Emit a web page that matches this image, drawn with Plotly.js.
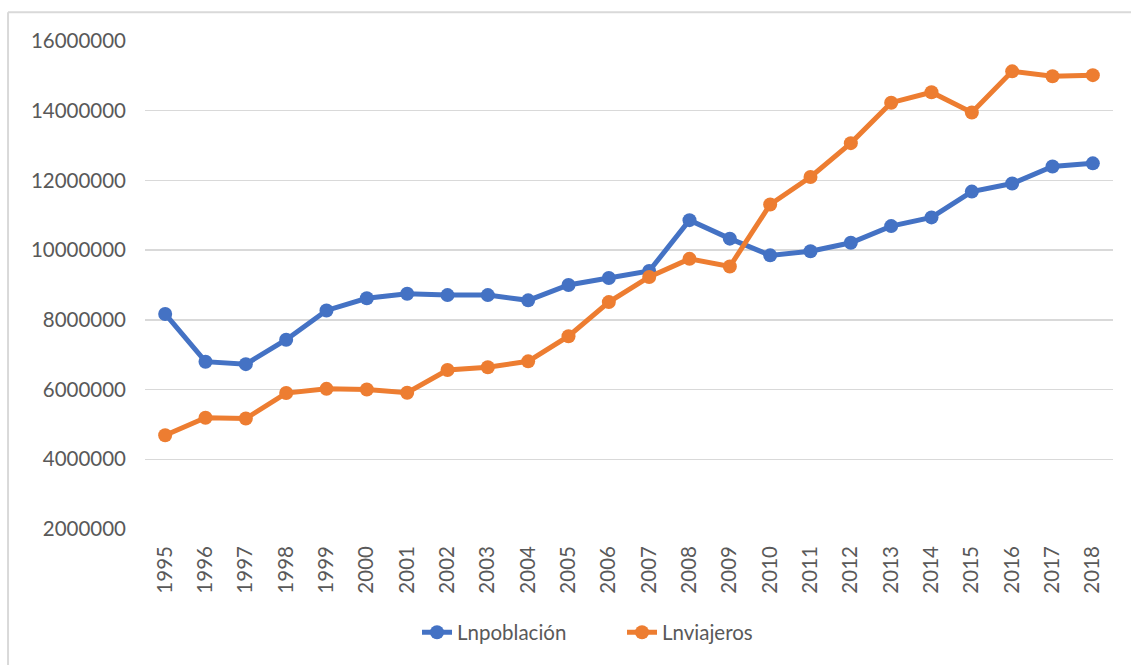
<!DOCTYPE html>
<html>
<head>
<meta charset="utf-8">
<script src="https://cdn.plot.ly/plotly-3.0.1.min.js"></script>
<style>html,body{margin:0;padding:0;background:#fff;}#chart{width:1131px;height:665px;}</style>
</head>
<body>
<div id="chart"></div>
<script>
const years = ['1995','1996','1997','1998','1999','2000','2001','2002','2003','2004','2005','2006','2007','2008','2009','2010','2011','2012','2013','2014','2015','2016','2017','2018'];
const lnpoblacion = [8170000,6800000,6730000,7430000,8270000,8620000,8750000,8710000,8710000,8560000,9000000,9200000,9400000,10860000,10330000,9850000,9970000,10210000,10690000,10940000,11680000,11910000,12400000,12490000];
const lnviajeros = [4690000,5190000,5170000,5900000,6020000,6000000,5910000,6560000,6640000,6810000,7530000,8510000,9230000,9750000,9530000,11310000,12100000,13070000,14230000,14530000,13950000,15130000,14990000,15020000];
const yTicks = [2000000,4000000,6000000,8000000,10000000,12000000,14000000,16000000];

const font = {family: 'Lato, "Open Sans", sans-serif', size: 20.5, color: '#595959'};

const traces = [
  {x: years, y: lnpoblacion, name: 'Lnpoblación', type: 'scatter', mode: 'lines+markers',
   line: {color: '#4472C4', width: 5}, marker: {color: '#4472C4', size: 14}},
  {x: years, y: lnviajeros, name: 'Lnviajeros', type: 'scatter', mode: 'lines+markers',
   line: {color: '#ED7D31', width: 5}, marker: {color: '#ED7D31', size: 14}}
];

const layout = {
  width: 1131, height: 665,
  margin: {l: 145, r: 18, t: 41, b: 134},
  paper_bgcolor: '#fff', plot_bgcolor: '#fff',
  font: font,
  showlegend: true,
  legend: {orientation: 'h', x: 0.281, xanchor: 'left', y: -0.212, yanchor: 'middle',
           font: font, itemwidth: 30, tracegroupgap: 0, entrywidth: 160},
  xaxis: {type: 'category', tickvals: years, ticktext: years, tickangle: -90,
          range: [-0.5, 23.5], autorange: false,
          showgrid: false, zeroline: false, showline: false, ticks: '',
          ticklabelstandoff: 12, tickfont: font, fixedrange: true},
  yaxis: {range: [2000000, 16000000], autorange: false, tickvals: yTicks, ticktext: yTicks.map(String),
          showgrid: true, gridcolor: '#D9D9D9', gridwidth: 1.5, zeroline: false,
          showline: false, ticks: '', ticklabelstandoff: 18, tickfont: font, fixedrange: true},
  shapes: [
    {type: 'line', xref: 'paper', yref: 'paper', x0: -0.1415, x1: 1.1, y0: 1.059, y1: 1.059,
     line: {color: '#D9D9D9', width: 2}},
    {type: 'line', xref: 'paper', yref: 'paper', x0: -0.1415, x1: -0.1415, y0: 1.059, y1: -0.3,
     line: {color: '#D9D9D9', width: 2}}
  ]
};

Plotly.newPlot('chart', traces, layout, {displayModeBar: false, staticPlot: true});
</script>
</body>
</html>
